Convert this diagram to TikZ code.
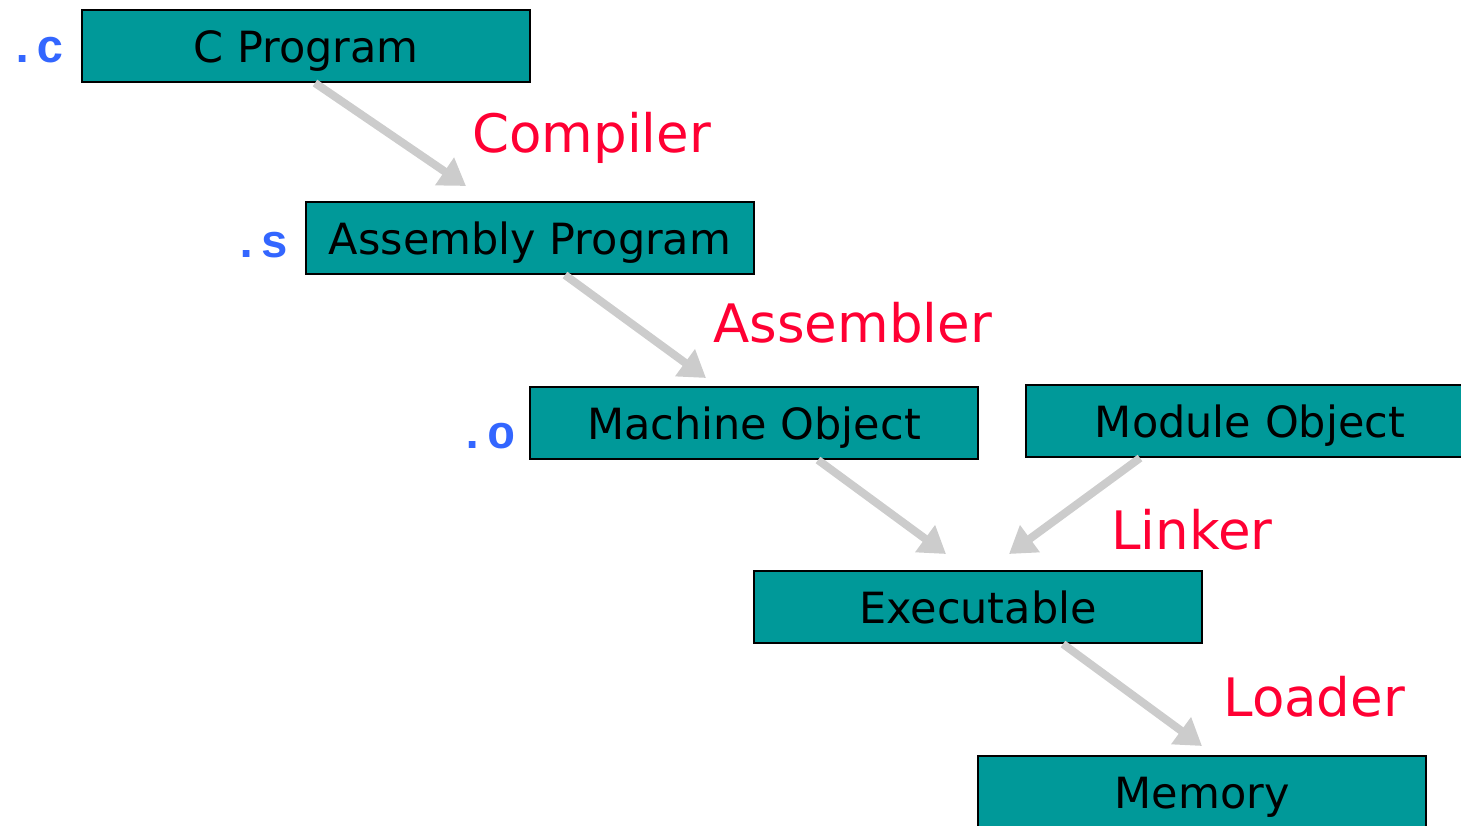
\documentclass[tikz,border=0pt]{standalone}
\usepackage{fontspec}
\setmainfont{DejaVu Sans}
\newfontfamily\codefont{Liberation Mono}
\usetikzlibrary{arrows.meta}
\definecolor{boxteal}{HTML}{009999}
\definecolor{steptext}{HTML}{FF0033}
\definecolor{extblue}{HTML}{3366FF}
\definecolor{flowgray}{HTML}{CCCCCC}
\tikzset{
  stage/.style={draw=black, line width=1pt, fill=boxteal, minimum width=224pt,
    minimum height=36pt, inner sep=0pt, text height=16.5pt, text depth=0pt,
    font=\fontsize{21.5}{24}\selectfont},
  tool/.style={text=steptext, font=\fontsize{26.5}{30}\selectfont, inner sep=0pt,
    anchor=base west},
  ext/.style={text=extblue, font=\codefont\bfseries\fontsize{23.5}{26}\selectfont,
    inner sep=0pt, anchor=base},
  flow/.style={draw=flowgray, line width=4pt,
    -{Triangle[length=13pt, width=16pt]}},
}
\begin{document}
\begin{tikzpicture}[x=0.5pt, y=-0.5pt]
  \useasboundingbox (0,0) rectangle (1461,825);
  \clip (0,0) rectangle (1461,825);

  % stages of the build chain
  \node[stage] (cprog) at (306,46)  {C Program};
  \node[stage] (asm)   at (530,238) {Assembly Program};
  \node[stage] (mach)  at (754,423) {Machine Object};
  \node[stage] (mod)   at (1250,421) {Module Object};
  \node[stage] (exe)   at (978,607) {Executable};
  \node[stage] (mem)   at (1202,792) {Memory};

  % file extensions
  \node[ext] (extc) at (37,62)  {.c};
  \node[ext] (exts) at (261,257) {.s};
  \node[ext] (exto) at (487,448) {.o};

  % tools between the stages
  \node[tool] (compiler)  at (472,152) {Compiler};
  \node[tool] (assembler) at (713,342) {Assembler};
  \node[tool] (linker)    at (1111,549) {Linker};
  \node[tool] (loader)    at (1223,716) {Loader};

  % arrow tips
  \coordinate (t1) at (466,186);
  \coordinate (t2) at (706,378);
  \coordinate (t3) at (946,554);
  \coordinate (t4) at (1009,554);
  \coordinate (t5) at (1202,746);

  \draw[flow] ([xshift=4.5pt]cprog.south) -- (t1);
  \draw[flow] ([xshift=17.5pt]asm.south) -- (t2);
  \draw[flow] ([xshift=32pt]mach.south) -- (t3);
  \draw[flow] ([xshift=-55pt]mod.south) -- (t4);
  \draw[flow] ([xshift=42.5pt]exe.south) -- (t5);
\end{tikzpicture}
\end{document}
